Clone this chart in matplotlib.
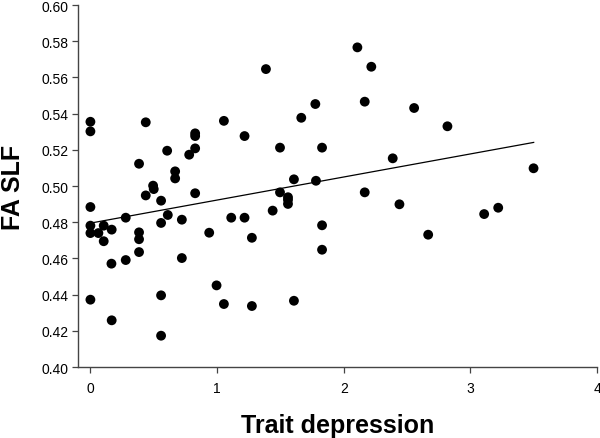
import matplotlib
matplotlib.use('Agg')
import matplotlib.pyplot as plt
import numpy as np

# Trait depression score vs FA in the superior longitudinal fasciculus
trait_depression = [
    0.0, 0.0, 0.437, 1.054, 1.217, 0.827, 0.827, 0.827, 0.78, 0.606,
    0.384, 0.669, 0.669, 0.495, 0.50, 0.437, 0.827, 0.0, 0.0, 0.0,
    0.063, 0.105, 0.105, 0.168, 0.279, 0.166, 0.279, 0.384, 0.384, 0.384,
    0.0, 0.168, 0.558, 0.558, 0.611, 0.722, 0.722, 0.558, 0.558, 0.938,
    0.996, 1.054, 1.112, 1.217, 1.275, 1.275, 1.386, 2.108, 2.218, 1.776,
    1.665, 2.166, 2.556, 2.819, 1.497, 1.829, 2.387, 1.607, 1.781, 1.497,
    2.166, 1.56, 1.56, 1.56, 1.439, 2.44, 1.829, 1.829, 2.667, 1.607,
    3.499, 3.109, 3.22,
]
fa_slf = [
    0.5355, 0.5302, 0.5352, 0.5360, 0.5276, 0.5291, 0.5276, 0.5208, 0.5173, 0.5195,
    0.5123, 0.5081, 0.5042, 0.5002, 0.4983, 0.4948, 0.4960, 0.4884, 0.4781, 0.4740,
    0.4740, 0.4781, 0.4695, 0.4759, 0.4825, 0.4571, 0.4591, 0.4744, 0.4706, 0.4635,
    0.4372, 0.4258, 0.4919, 0.4796, 0.4840, 0.4814, 0.4602, 0.4396, 0.4173, 0.4742,
    0.4451, 0.4348, 0.4825, 0.4825, 0.4714, 0.4337, 0.5646, 0.5766, 0.5659, 0.5453,
    0.5377, 0.5466, 0.5431, 0.5330, 0.5212, 0.5212, 0.5153, 0.5037, 0.5029, 0.4965,
    0.4965, 0.4938, 0.4924, 0.4901, 0.4864, 0.4899, 0.4783, 0.4648, 0.4731, 0.4366,
    0.5098, 0.4845, 0.4880,
]

# regression line as drawn in the original figure
fit_intercept = 0.4795
fit_slope = 0.01274
fit_range = [0.0, 3.5]

x_ticks = [0, 1, 2, 3, 4]
y_ticks = [0.40, 0.42, 0.44, 0.46, 0.48, 0.50, 0.52, 0.54, 0.56, 0.58, 0.60]

plt.rcParams['font.family'] = ['Liberation Sans', 'DejaVu Sans']

fig = plt.figure(figsize=(6.0, 4.39), dpi=100)
ax = fig.add_axes([0.13, 0.1617, 0.865, 0.8246])

ax.scatter(trait_depression, fa_slf, s=50, color='black', edgecolors='none', zorder=3)

fx = np.array(fit_range)
ax.plot(fx, fit_intercept + fit_slope * fx, color='black', linewidth=0.9, zorder=2)

ax.set_xlim(-0.098, 4.0)
ax.set_ylim(0.40, 0.60)
ax.set_xticks(x_ticks)
ax.set_xticklabels([str(t) for t in x_ticks])
ax.set_yticks(y_ticks)
ax.set_yticklabels([f'{t:.2f}' for t in y_ticks])

for side in ('top', 'right'):
    ax.spines[side].set_visible(False)
for side in ('left', 'bottom'):
    ax.spines[side].set_color('#444444')
    ax.spines[side].set_linewidth(1.0)

ax.tick_params(direction='out', length=4, width=0.9, color='#444444',
               labelsize=10, pad=2.5)
ax.tick_params(axis='x', pad=6)

ax.set_xlabel('Trait depression', fontsize=18, fontweight='bold', labelpad=13)
ax.set_ylabel('FA SLF', fontsize=18, fontweight='bold', labelpad=12)

fig.savefig('out.png', dpi=100)
